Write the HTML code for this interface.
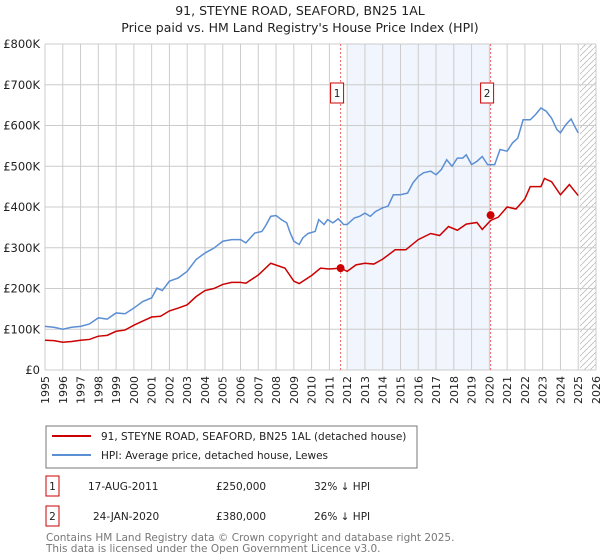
<!DOCTYPE html>
<html><head><meta charset="utf-8"><style>
body{margin:0;background:#fff;font-family:"Liberation Sans","DejaVu Sans",sans-serif;}
svg{display:block}
</style></head><body>
<svg id="c" width="600" height="560" xmlns="http://www.w3.org/2000/svg" font-family="DejaVu Sans, Liberation Sans, sans-serif">
<text x="300" y="15" text-anchor="middle" font-size="12.5" fill="#222">91, STEYNE ROAD, SEAFORD, BN25 1AL</text>
<text x="300" y="32" text-anchor="middle" font-size="12.5" fill="#222">Price paid vs. HM Land Registry's House Price Index (HPI)</text>
<g id="plot"></g>
<g>
<rect x="46" y="426" width="371" height="42" fill="#fff" stroke="#777" stroke-width="1"/>
<line x1="52" y1="436" x2="91" y2="436" stroke="#cc0000" stroke-width="2"/>
<text x="101" y="440" font-size="10.5" fill="#222">91, STEYNE ROAD, SEAFORD, BN25 1AL (detached house)</text>
<line x1="52" y1="455" x2="91" y2="455" stroke="#5b8fd4" stroke-width="2"/>
<text x="101" y="459" font-size="10.5" fill="#222">HPI: Average price, detached house, Lewes</text>
</g>
<g font-size="10.5" fill="#222">
<rect x="46" y="476" width="13" height="20" fill="#fff" stroke="#cc0000"/>
<text x="52.5" y="490" text-anchor="middle">1</text>
<text x="88" y="490">17-AUG-2011</text><text x="216" y="490">£250,000</text><text x="314" y="490">32% ↓ HPI</text>
<rect x="46" y="506" width="13" height="20" fill="#fff" stroke="#cc0000"/>
<text x="52.5" y="520" text-anchor="middle">2</text>
<text x="93" y="520">24-JAN-2020</text><text x="216" y="520">£380,000</text><text x="314" y="520">26% ↓ HPI</text>
</g>
<text x="46" y="541" font-size="10.5" fill="#777">Contains HM Land Registry data © Crown copyright and database right 2025.</text>
<text x="46" y="552" font-size="10.5" fill="#777">This data is licensed under the Open Government Licence v3.0.</text>
</svg>
<script>
const hpiYears=[1995,1995.5,1996,1996.5,1997,1997.5,1998,1998.5,1999,1999.5,2000,2000.5,2001,2001.3,2001.6,2002,2002.5,2003,2003.5,2004,2004.5,2005,2005.5,2006,2006.3,2006.8,2007.2,2007.4,2007.7,2008,2008.3,2008.6,2008.8,2009,2009.3,2009.5,2009.8,2010.2,2010.4,2010.7,2010.9,2011.2,2011.5,2011.8,2012,2012.4,2012.7,2013,2013.3,2013.6,2014,2014.3,2014.6,2015,2015.4,2015.7,2016,2016.3,2016.7,2017,2017.3,2017.6,2017.9,2018.2,2018.5,2018.7,2019,2019.3,2019.6,2019.9,2020.3,2020.6,2021,2021.3,2021.6,2021.9,2022.3,2022.6,2022.9,2023.2,2023.5,2023.8,2024,2024.3,2024.6,2024.8,2025];
const hpiValues=[107,105,100,105,107,113,128,125,140,138,152,168,177,201,195,218,226,242,271,287,299,316,320,320,312,336,340,353,377,379,369,361,336,316,308,324,335,340,369,357,369,361,371,357,357,373,377,385,377,389,398,402,430,430,434,459,475,484,488,479,492,516,500,520,520,528,504,512,524,504,504,541,537,557,569,614,614,627,643,635,618,590,582,602,616,598,582];
const priceYears=[1995,1995.5,1996,1996.5,1997,1997.5,1998,1998.5,1999,1999.5,2000,2000.5,2001,2001.5,2002,2002.5,2003,2003.5,2004,2004.5,2005,2005.5,2006,2006.3,2007,2007.7,2008.5,2009,2009.3,2010,2010.5,2011,2011.63,2012,2012.5,2013,2013.5,2014,2014.7,2015.3,2016,2016.7,2017.2,2017.7,2018.2,2018.7,2019.3,2019.6,2020.07,2020.5,2021,2021.5,2022,2022.3,2022.9,2023.1,2023.5,2024,2024.5,2025];
const priceValues=[73,72,68,70,73,75,83,85,95,98,110,120,130,132,145,152,160,180,195,200,210,215,215,213,233,262,250,218,212,232,250,248,250,242,258,262,260,272,295,295,320,335,330,352,343,358,362,345,367,375,400,395,420,450,450,470,462,430,455,428];
const saleYears=[2011.63,2020.07];
const saleValues=[250,380];
const saleLabels=["1","2"];
const yTicks=[0,100,200,300,400,500,600,700,800];
const yTickLabels=["£0","£100K","£200K","£300K","£400K","£500K","£600K","£700K","£800K"];
const xTicks=[];for(let y=1995;y<=2026;y++)xTicks.push(y);

const L=45,R=596,T=44,B=370,X0=1995,X1=2026,YMAX=800;
const xs=v=>L+(v-X0)/(X1-X0)*(R-L);
const ys=v=>B-v/YMAX*(B-T);
const NS="http://www.w3.org/2000/svg";
const g=document.getElementById('plot');
function mk(t,a,p){const e=document.createElementNS(NS,t);for(const k in a)e.setAttribute(k,a[k]);(p||g).appendChild(e);return e;}

const shade=mk('rect',{x:xs(2012.05),y:T,width:xs(saleYears[1])-xs(2012.05),height:B-T,fill:'#eef3fc',opacity:0.8});


const defs=mk('defs',{});
const pat=mk('pattern',{id:'h',width:6,height:6,patternUnits:'userSpaceOnUse'},defs);
mk('path',{d:'M0,6 L6,0',stroke:'#bbb','stroke-width':0.8},pat);
const hatch=mk('rect',{x:xs(2025.1),y:T,width:R-xs(2025.1),height:B-T,fill:'url(#h)'});



xTicks.forEach(v=>{
 const ln=mk('line',{x1:xs(v),x2:xs(v),y1:T,y2:B,stroke:'#ccc','stroke-width':1});
 
 
 const t=mk('text',{x:0,y:0,'font-size':11,fill:'#222','text-anchor':'end',transform:`translate(${xs(v)+4},${B+6}) rotate(-90)`});
 t.textContent=v;
 
 
});
yTicks.forEach((v,i)=>{
 const ln=mk('line',{x1:L,x2:R,y1:ys(v),y2:ys(v),stroke:'#ccc','stroke-width':1});
 
 
 const t=mk('text',{x:L-5,y:ys(v)+4,'font-size':11.5,fill:'#222','text-anchor':'end'});
 t.textContent=yTickLabels[i];
 
 
});
saleYears.forEach((v,i)=>{
 const ln=mk('line',{x1:xs(v),x2:xs(v),y1:T,y2:B,stroke:'#e66','stroke-width':1,'stroke-dasharray':'2,2'});
 
 
 const r=mk('rect',{x:xs(v)-10,y:83,width:13,height:20,fill:'#fff',stroke:'#cc0000'});
 
 
 const t=mk('text',{x:xs(v)-3.5,y:97,'font-size':10.5,fill:'#222','text-anchor':'middle'});
 t.textContent=saleLabels[i];
 
 
});
const hp=mk('polyline',{points:hpiYears.map((y,i)=>xs(y)+','+ys(hpiValues[i])).join(' '),fill:'none',stroke:'#5b8fd4','stroke-width':1.5});


const pp=mk('polyline',{points:priceYears.map((y,i)=>xs(y)+','+ys(priceValues[i])).join(' '),fill:'none',stroke:'#cc0000','stroke-width':1.5});


saleYears.forEach((v,i)=>{
 const c=mk('circle',{cx:xs(v),cy:ys(saleValues[i]),r:4,fill:'#cc0000'});
 
 
});
</script>
</body></html>
